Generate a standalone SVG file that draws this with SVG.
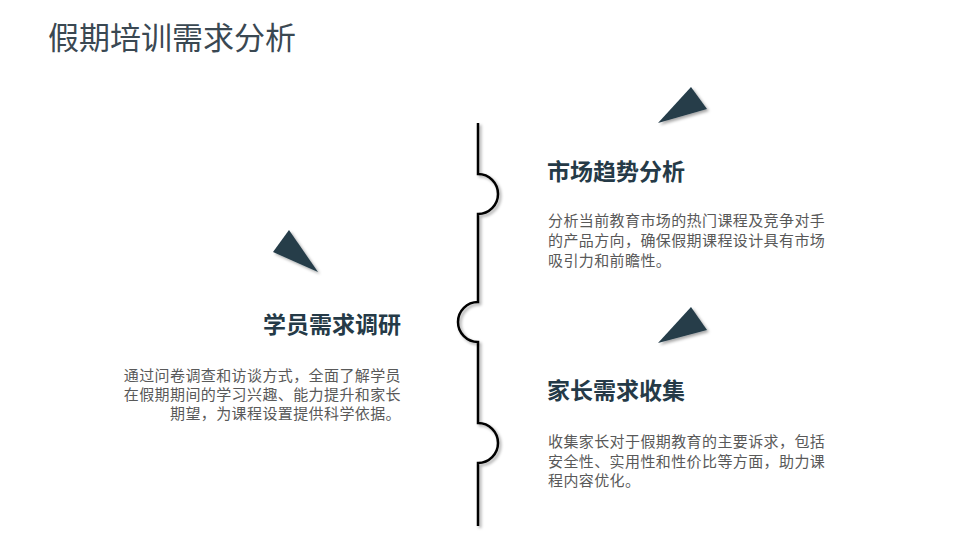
<svg xmlns="http://www.w3.org/2000/svg" width="960" height="540" viewBox="0 0 960 540">
<defs>
<filter id="sh" x="-20%" y="-20%" width="140%" height="140%">
<feDropShadow dx="2" dy="2" stdDeviation="1.5" flood-color="#000" flood-opacity="0.35"/>
</filter>
<style>
.t{font-family:"Noto Sans CJK SC","Noto Sans",sans-serif;}
.title{font-size:31px;fill:#3a4852;}
.h{font-size:23px;font-weight:bold;fill:#253a47;}
.b{font-size:15px;fill:#595959;letter-spacing:0.4px;}
.tri{fill:#253d4a;filter:url(#sh);}
.line{fill:none;stroke:#000;stroke-width:2.5;filter:url(#sh);}
</style>
</defs>
<rect width="960" height="540" fill="#fff"/>
<text class="t title" x="48" y="49">假期培训需求分析</text>
<g id="connectors">
<path class="line" d="M478,123 V174 A20,20 0 0 1 478,214 V302 A20,20 0 0 0 478,342 V423 A20,20 0 0 1 478,463 V526"/>
</g>
<g id="node-market">
<polygon class="tri" points="658,123 691,87 707,109"/>
<text class="t h" x="547" y="180">市场趋势分析</text>
<text class="t b" x="548" y="226">分析当前教育市场的热门课程及竞争对手</text>
<text class="t b" x="548" y="246">的产品方向，确保假期课程设计具有市场</text>
<text class="t b" x="548" y="266">吸引力和前瞻性。</text>
</g>
<g id="node-student">
<polygon class="tri" points="273,252 289,230 318,272"/>
<text class="t h" x="401" y="333" text-anchor="end">学员需求调研</text>
<text class="t b" x="401" y="381" text-anchor="end">通过问卷调查和访谈方式，全面了解学员</text>
<text class="t b" x="401" y="400" text-anchor="end">在假期期间的学习兴趣、能力提升和家长</text>
<text class="t b" x="401" y="419" text-anchor="end">期望，为课程设置提供科学依据。</text>
</g>
<g id="node-parent">
<polygon class="tri" points="658,343 691,307 707,330"/>
<text class="t h" x="547" y="399">家长需求收集</text>
<text class="t b" x="548" y="447">收集家长对于假期教育的主要诉求，包括</text>
<text class="t b" x="548" y="467">安全性、实用性和性价比等方面，助力课</text>
<text class="t b" x="548" y="486">程内容优化。</text>
</g>
</svg>
